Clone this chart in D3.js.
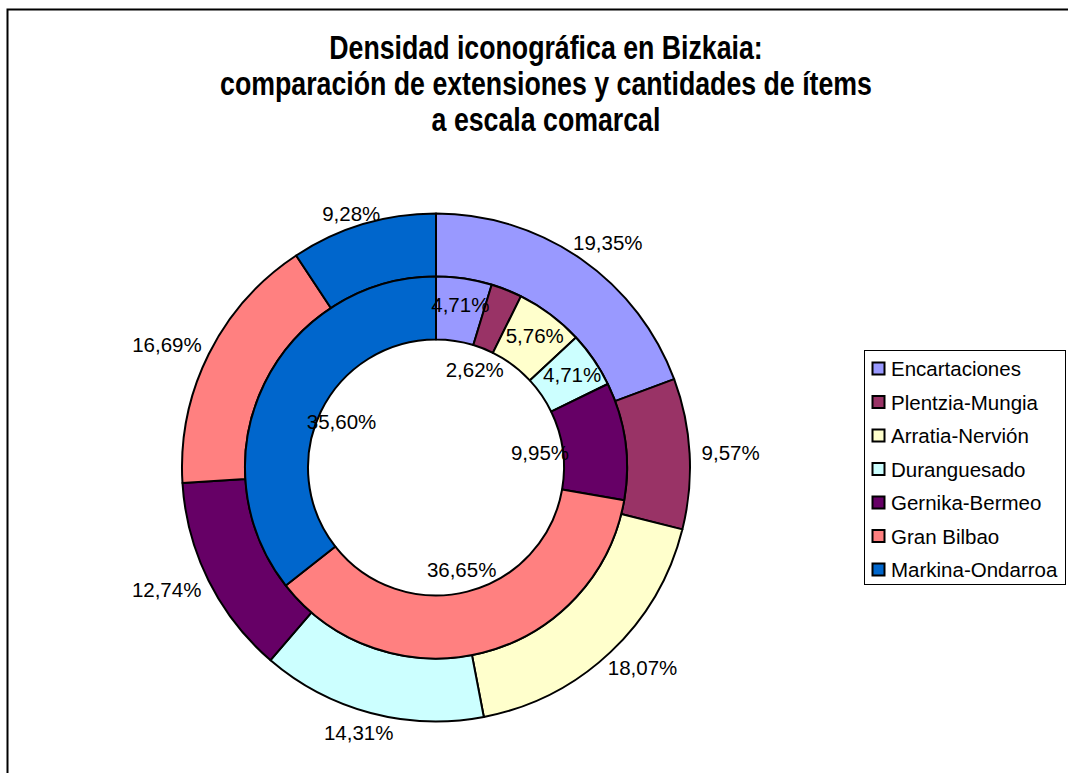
<!DOCTYPE html>
<html>
<head>
<meta charset="utf-8">
<script src="https://cdn.jsdelivr.net/npm/d3@7"></script>
<style>
  html, body { margin: 0; padding: 0; background: #fff; }
  svg { display: block; font-family: "Liberation Sans", Arial, sans-serif; }
</style>
</head>
<body>
<svg id="chart" width="1068" height="773"></svg>
<script>
// ---- data ----
const titleLines = [
  "Densidad iconográfica en Bizkaia:",
  "comparación de extensiones y cantidades de ítems",
  "a escala comarcal"
];
const categories = ["Encartaciones", "Plentzia-Mungia", "Arratia-Nervión", "Duranguesado",
                    "Gernika-Bermeo", "Gran Bilbao", "Markina-Ondarroa"];
const outerValues = [19.35, 9.57, 18.07, 14.31, 12.74, 16.69, 9.28];   // extensión (%)
const innerValues = [4.71, 2.62, 5.76, 4.71, 9.95, 36.65, 35.60];     // ítems (%)
const colors = ["#9999FF", "#993366", "#FFFFCC", "#CCFFFF", "#660066", "#FF8080", "#0066CC"];

// ---- layout ----
const W = 1068, H = 773;
const cx = 436, cy = 467.5;
const rOuter = 254, rMid = 191, rHole = 128;
const svg = d3.select("#chart");

// chart border
svg.append("rect").attr("x", 7.5).attr("y", 9.5).attr("width", W + 20).attr("height", H + 20)
  .attr("fill", "none").attr("stroke", "#000").attr("stroke-width", 2);

// title (condensed bold)
const tg = svg.append("g").attr("transform", "translate(546,0)");
tg.selectAll("text").data(titleLines).join("text")
  .attr("transform", (d, i) => `translate(0,${59 + i * 36}) scale(0.81,1)`)
  .attr("text-anchor", "middle").attr("font-weight", "bold").attr("font-size", 33)
  .attr("fill", "#000").text(d => d);

const color = d3.scaleOrdinal().domain(categories).range(colors);
const pie = d3.pie().sort(null).value(d => d.v);
const fmt = v => d3.format(".2f")(v).replace(".", ",") + "%";

const outerData = pie(categories.map((c, i) => ({ c, v: outerValues[i] })));
const innerData = pie(categories.map((c, i) => ({ c, v: innerValues[i] })));

const arcOuter = d3.arc().innerRadius(rMid).outerRadius(rOuter);
const arcInner = d3.arc().innerRadius(rHole).outerRadius(rMid);

const g = svg.append("g").attr("transform", `translate(${cx},${cy})`);

g.append("g").selectAll("path").data(outerData).join("path")
  .attr("d", arcOuter).attr("fill", d => color(d.data.c))
  .attr("stroke", "#000").attr("stroke-width", 2).attr("stroke-linejoin", "round");
g.append("g").selectAll("path").data(innerData).join("path")
  .attr("d", arcInner).attr("fill", d => color(d.data.c))
  .attr("stroke", "#000").attr("stroke-width", 2).attr("stroke-linejoin", "round");

const labelSize = 20.5;
// outer labels: anchored just outside the ring, pushed out by the half box
const outerLabels = g.append("g").selectAll("text").data(outerData).join("text")
  .attr("font-size", labelSize).attr("fill", "#000")
  .attr("text-anchor", "middle").attr("dominant-baseline", "central")
  .text(d => fmt(d.data.v));
outerLabels.each(function(d) {
  const w = this.getComputedTextLength(), h = labelSize * 0.85;
  const a = (d.startAngle + d.endAngle) / 2;
  const s = Math.sin(a), c = -Math.cos(a);
  let x = 266 * s + (w / 2) * s;
  let y = 266 * c + (h / 2) * c;
  y = Math.max(213 - cy, Math.min(740 - cy, y));
  d3.select(this).attr("x", x).attr("y", y);
});

// inner labels: at the ring, small/large slices drawn towards the hole
const innerR = d => (d.data.v < 3 || d.data.v > 9) ? 105 : 165;
g.append("g").selectAll("text").data(innerData).join("text")
  .attr("font-size", labelSize).attr("fill", "#000")
  .attr("text-anchor", "middle").attr("dominant-baseline", "central")
  .attr("x", d => innerR(d) * Math.sin((d.startAngle + d.endAngle) / 2))
  .attr("y", d => -innerR(d) * Math.cos((d.startAngle + d.endAngle) / 2))
  .text(d => fmt(d.data.v));

// legend
const lg = svg.append("g");
lg.append("rect").attr("x", 864.5).attr("y", 350.5).attr("width", 201).attr("height", 234)
  .attr("fill", "#fff").attr("stroke", "#000").attr("stroke-width", 1);
const items = lg.selectAll("g.item").data(categories).join("g").attr("class", "item")
  .attr("transform", (d, i) => `translate(0,${368.5 + i * 33.5})`);
items.append("rect").attr("x", 872.5).attr("y", -6).attr("width", 12).attr("height", 12)
  .attr("fill", d => color(d)).attr("stroke", "#000").attr("stroke-width", 2);
items.append("text").attr("x", 891).attr("y", 0).attr("dominant-baseline", "central")
  .attr("font-size", 20.5).attr("fill", "#000").text(d => d);
</script>
</body>
</html>
